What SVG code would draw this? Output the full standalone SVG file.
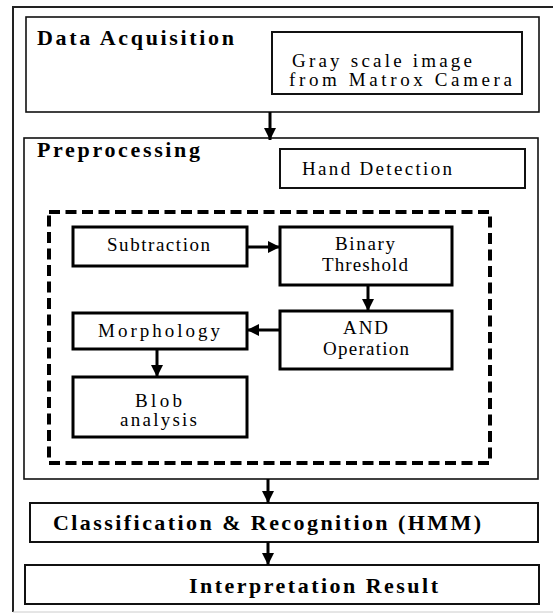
<svg xmlns="http://www.w3.org/2000/svg" width="553" height="614" viewBox="0 0 553 614">
<style>
text{font-family:'Liberation Serif','Tinos','Noto Serif','DejaVu Serif','Times New Roman',serif;fill:#000}
.title{font-weight:bold;font-size:22px}
.lbl{font-size:19px}
.thin{fill:none;stroke:#111;stroke-width:1.6}
.mid{fill:none;stroke:#111;stroke-width:2}
.thick{fill:none;stroke:#000;stroke-width:3}
.dash{fill:none;stroke:#000;stroke-width:4;stroke-dasharray:11 5.5}
.conn{stroke:#000;stroke-width:3;fill:none}
</style>
<defs>
<marker id="ah" markerUnits="userSpaceOnUse" markerWidth="14" markerHeight="14" viewBox="0 0 14 14" refX="12" refY="7" orient="auto">
<path d="M0,1 L12,7 L0,13 Z" fill="#000"/>
</marker>
</defs>
<rect width="553" height="614" fill="#fff"/>
<g id="frame">
<path d="M13,612 L13,7 L560,7" fill="none" stroke="#222" stroke-width="2"/>
<line x1="13" y1="612" x2="553" y2="612" stroke="#ccc" stroke-width="1"/>
</g>
<g id="data-acquisition">
<rect class="thin" x="26" y="17" width="513" height="95"/>
<text class="title" x="37" y="45" textLength="197" lengthAdjust="spacing">Data Acquisition</text>
</g>
<g id="gray-scale">
<rect class="mid" x="272" y="32" width="250" height="62"/>
<text class="lbl" x="292" y="67" textLength="180" lengthAdjust="spacing">Gray scale image</text>
<text class="lbl" x="289" y="86" textLength="223" lengthAdjust="spacing">from Matrox Camera</text>
</g>
<g id="preprocessing">
<rect class="thin" x="24" y="138" width="514" height="341"/>
<text class="title" x="37" y="157" textLength="163" lengthAdjust="spacing">Preprocessing</text>
</g>
<g id="hand-detection">
<rect class="mid" x="280" y="149" width="245" height="39"/>
<text class="lbl" x="302" y="175" textLength="150" lengthAdjust="spacing">Hand Detection</text>
</g>
<g id="detection-group">
<rect class="dash" x="49" y="212" width="441" height="251"/>
</g>
<g id="subtraction">
<rect class="thick" x="73" y="227" width="174" height="39"/>
<text class="lbl" x="107" y="251" textLength="103" lengthAdjust="spacing">Subtraction</text>
</g>
<g id="binary-threshold">
<rect class="thick" x="280" y="227" width="172" height="58"/>
<text class="lbl" x="335" y="250" textLength="60" lengthAdjust="spacing">Binary</text>
<text class="lbl" x="322" y="271" textLength="86" lengthAdjust="spacing">Threshold</text>
</g>
<g id="and-operation">
<rect class="thick" x="280" y="311" width="172" height="58"/>
<text class="lbl" x="343" y="334" textLength="45" lengthAdjust="spacing">AND</text>
<text class="lbl" x="323" y="355" textLength="86" lengthAdjust="spacing">Operation</text>
</g>
<g id="morphology">
<rect class="thick" x="73" y="313" width="174" height="36"/>
<text class="lbl" x="98" y="337" textLength="122" lengthAdjust="spacing">Morphology</text>
</g>
<g id="blob-analysis">
<rect class="thick" x="73" y="377" width="174" height="60"/>
<text class="lbl" x="135" y="407" textLength="47" lengthAdjust="spacing">Blob</text>
<text class="lbl" x="120" y="426" textLength="77" lengthAdjust="spacing">analysis</text>
</g>
<g id="classification">
<rect class="mid" x="30" y="503" width="508" height="39"/>
<text class="title" x="53" y="530" textLength="428" lengthAdjust="spacing">Classification &amp; Recognition (HMM)</text>
</g>
<g id="interpretation">
<rect class="mid" x="25" y="565" width="514" height="39"/>
<text class="title" x="189" y="593" textLength="249" lengthAdjust="spacing">Interpretation Result</text>
</g>
<g id="connectors">
<line class="conn" x1="270" y1="112" x2="270" y2="140" marker-end="url(#ah)"/>
<line class="conn" x1="247" y1="247" x2="280" y2="247" marker-end="url(#ah)"/>
<line class="conn" x1="368" y1="285" x2="368" y2="311" marker-end="url(#ah)"/>
<line class="conn" x1="280" y1="330" x2="247" y2="330" marker-end="url(#ah)"/>
<line class="conn" x1="157" y1="349" x2="157" y2="377" marker-end="url(#ah)"/>
<line class="conn" x1="268" y1="479" x2="268" y2="503" marker-end="url(#ah)"/>
<line class="conn" x1="268" y1="542" x2="268" y2="565" marker-end="url(#ah)"/>
</g>
</svg>
